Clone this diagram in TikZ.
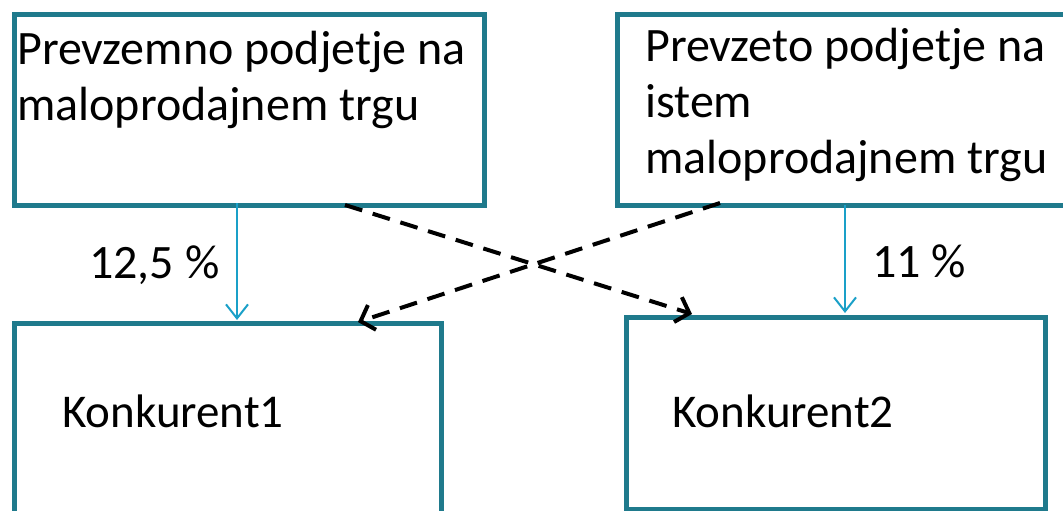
\documentclass[tikz,border=0pt]{standalone}
\usepackage{fontspec}
\setmainfont{Carlito}
\usetikzlibrary{arrows.meta}
\definecolor{boxteal}{HTML}{1F7A8C}
\definecolor{arrowblue}{HTML}{1AA0C8}
\tikzset{
  box/.style={draw=boxteal, line width=5pt, fill=white, rectangle, anchor=north west, inner sep=0pt},
  txt/.style={anchor=base west, inner sep=0pt, font=\fontsize{48}{56}\selectfont, align=left},
  lbl/.style={inner sep=0pt, anchor=base west, font=\fontsize{48}{56}\selectfont},
  bluearrow/.style={draw=arrowblue, line width=2pt, -{Straight Barb[length=14pt,width=22pt,line width=2pt]}},
  dasharrow/.style={draw=black, line width=4pt, dash pattern=on 18pt off 11pt, -{Straight Barb[length=12pt,width=26pt,line width=4pt]}}
}
\begin{document}
\begin{tikzpicture}[x=1pt,y=1pt]
\useasboundingbox (0,0) rectangle (1063,-511);
\node[box, minimum width=470pt, minimum height=191pt] (A) at (12,-12) {};
\node[box, minimum width=470pt, minimum height=191pt] (B) at (615,-12) {};
\node[box, minimum width=427pt, minimum height=220pt] (C) at (12,-321) {};
\node[box, minimum width=419pt, minimum height=192pt] (D) at (624,-315) {};
\node[txt] (At) at (17,-121) {Prevzemno podjetje na\\maloprodajnem trgu};
\node[txt] (Bt) at (645,-173) {Prevzeto podjetje na\\istem\\maloprodajnem trgu};
\node[txt, font=\fontsize{47}{56}\selectfont] (Ct) at (62,-427) {Konkurent1};
\node[txt, font=\fontsize{47}{56}\selectfont] (Dt) at (672,-427) {Konkurent2};
\coordinate (a1) at (237,-203);
\coordinate (c1) at (237,-320);
\coordinate (b1) at (845,-205);
\coordinate (d1) at (845,-313);
\coordinate (a2) at (345,-205);
\coordinate (d2) at (692,-314);
\coordinate (b2) at (720,-203);
\coordinate (c2) at (358,-322);
\node[lbl] (l1) at (89,-278) {12,5 \%};
\node[lbl] (l2) at (872,-277) {11 \%};
\draw[bluearrow] (a1) -- (c1);
\draw[bluearrow] (b1) -- (d1);
\draw[dasharrow] (a2) -- (d2);
\draw[dasharrow] (b2) -- (c2);
\end{tikzpicture}
\end{document}
